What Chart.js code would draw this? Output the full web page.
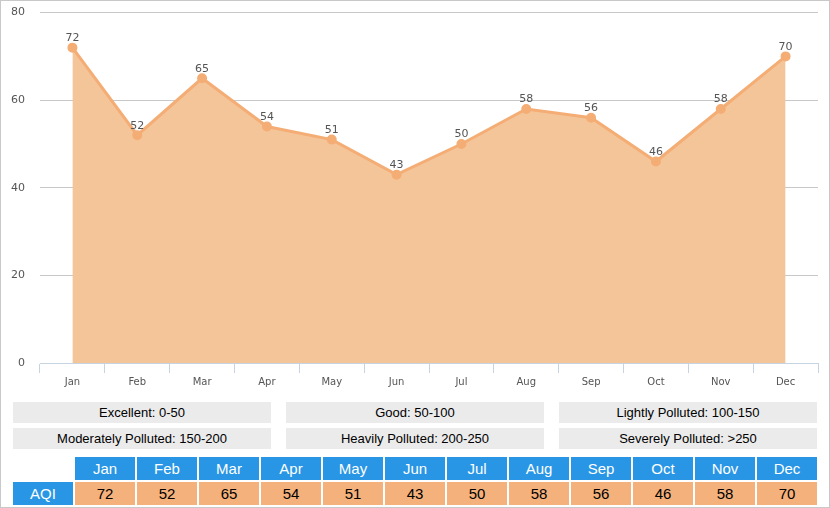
<!DOCTYPE html>
<html>
<head>
<meta charset="utf-8">
<script src="https://cdn.jsdelivr.net/npm/chart.js@4"></script>
<style>
  html, body { margin: 0; padding: 0; background: #fff; }
  #wrap { position: relative; width: 828px; height: 506px; border: 1px solid #c8c8c8; overflow: hidden; font-family: "Liberation Sans", Arial, sans-serif; }
  #chartBox { position: absolute; left: -1px; top: -10px; width: 830px; height: 404px; }
  .lvl { position: absolute; height: 21px; line-height: 21px; width: 258px; background: #ebebeb; text-align: center; font-size: 13px; color: #000; }
  .cell { position: absolute; width: 60px; height: 23px; line-height: 23px; text-align: center; font-size: 15px; }
  .head { background: #2896e4; color: #fff; }
  .val { background: #f4b17b; color: #000; }
</style>
</head>
<body>
<div id="wrap">
  <div id="chartBox"><canvas id="aqiChart"></canvas></div>
  <div id="levels"></div>
  <div id="table"></div>
</div>
<script>
const months = ['Jan', 'Feb', 'Mar', 'Apr', 'May', 'Jun', 'Jul', 'Aug', 'Sep', 'Oct', 'Nov', 'Dec'];
const aqiValues = [72, 52, 65, 54, 51, 43, 50, 58, 56, 46, 58, 70];
const levelLabels = [
  'Excellent: 0-50', 'Good: 50-100', 'Lightly Polluted: 100-150',
  'Moderately Polluted: 150-200', 'Heavily Polluted: 200-250', 'Severely Polluted: >250'
];

// level boxes, 3 per row
const levels = document.getElementById('levels');
levelLabels.forEach((txt, i) => {
  const d = document.createElement('div');
  d.className = 'lvl';
  d.style.left = (12 + (i % 3) * 273) + 'px';
  d.style.top = (401 + Math.floor(i / 3) * 26) + 'px';
  d.textContent = txt;
  levels.appendChild(d);
});

// month / value table
const table = document.getElementById('table');
const addCell = (cls, txt, x, y) => {
  const d = document.createElement('div');
  d.className = 'cell ' + cls;
  d.style.left = x + 'px';
  d.style.top = y + 'px';
  d.textContent = txt;
  table.appendChild(d);
};
addCell('head', 'AQI', 12, 481);
months.forEach((m, i) => {
  addCell('head', m, 74 + i * 62, 456);
  addCell('val', aqiValues[i], 74 + i * 62, 481);
});

// value labels above points
const valueLabels = {
  id: 'valueLabels',
  afterDatasetsDraw(chart) {
    const ctx = chart.ctx;
    const meta = chart.getDatasetMeta(0);
    ctx.save();
    ctx.font = '11px "DejaVu Sans", Verdana, sans-serif';
    ctx.fillStyle = '#555';
    ctx.textAlign = 'center';
    ctx.textBaseline = 'bottom';
    meta.data.forEach((pt, i) => {
      ctx.fillText(aqiValues[i], pt.x, pt.y - 4);
    });
    ctx.restore();
  }
};

new Chart(document.getElementById('aqiChart'), {
  type: 'line',
  data: {
    labels: months,
    datasets: [{
      data: aqiValues,
      borderColor: '#f4ad74',
      backgroundColor: '#f5c59a',
      borderWidth: 3,
      pointRadius: 3.5,
      pointBackgroundColor: '#f4ad74',
      pointBorderColor: '#f4ad74',
      fill: 'origin',
      tension: 0
    }]
  },
  options: {
    responsive: true,
    maintainAspectRatio: false,
    animation: false,
    layout: { padding: { top: 2, right: 12, left: 0, bottom: 0 } },
    plugins: { legend: { display: false }, tooltip: { enabled: false } },
    scales: {
      x: {
        offset: true,
        afterFit: s => { s.height = 32; },
        grid: { offset: true, drawOnChartArea: false, drawTicks: true, tickLength: 10, color: '#c5d3e2' },
        border: { color: '#c5d3e2' },
        ticks: { color: '#555', font: { size: 10, family: '"DejaVu Sans", Verdana, sans-serif' }, padding: 3 }
      },
      y: {
        min: 0,
        max: 80,
        afterFit: s => { s.width = 40; },
        grid: { color: '#c8c8c8', drawTicks: false },
        border: { display: false },
        ticks: { stepSize: 20, color: '#555', padding: 15, font: { size: 11, family: '"DejaVu Sans", Verdana, sans-serif' } }
      }
    }
  },
  plugins: [valueLabels]
});
</script>
</body>
</html>
